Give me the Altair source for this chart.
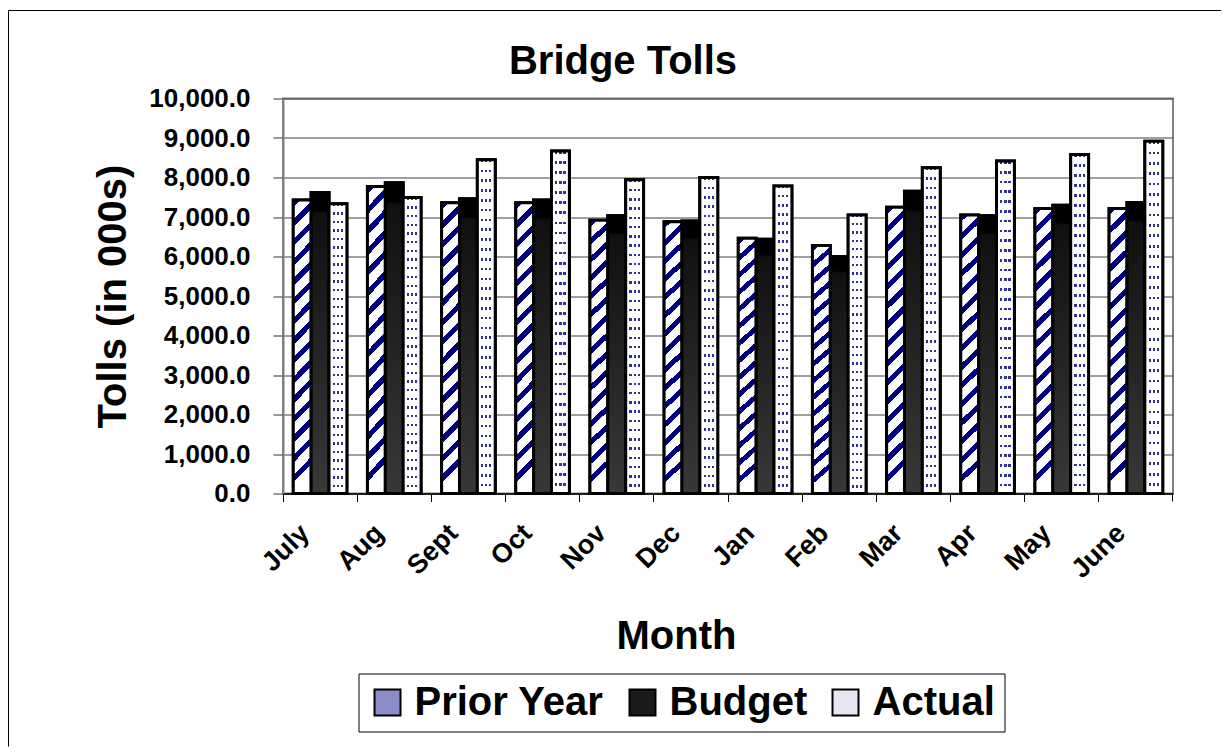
import altair as alt
import pandas as pd

months = ["July", "Aug", "Sept", "Oct", "Nov", "Dec", "Jan", "Feb", "Mar", "Apr", "May", "June"]
series = ["Prior Year", "Budget", "Actual"]
prior_year = [7430, 7775, 7360, 7360, 6915, 6880, 6460, 6280, 7245, 7050, 7215, 7215]
budget = [7620, 7870, 7460, 7430, 7030, 6900, 6435, 6000, 7655, 7030, 7300, 7370]
actual = [7335, 7495, 8450, 8670, 7945, 8000, 7785, 7050, 8250, 8415, 8585, 8920]
y_ticks = [0, 1000, 2000, 3000, 4000, 5000, 6000, 7000, 8000, 9000, 10000]
legend_colors = ["#8c8cc8", "#1a1a1a", "#e6e6f4"]
chart_title = "Bridge Tolls"

rows = []
for i, m in enumerate(months):
    for s, vals in zip(series, [prior_year, budget, actual]):
        rows.append({"Month": m, "Series": s, "Tolls": vals[i]})
df = pd.DataFrame(rows)

FONT = "Liberation Sans"
NAVY = "#000080"
W, H = 890, 395


def band_stops(c_on, c_off, n, frac):
    stops = []
    for i in range(n):
        a = i / n
        b = (i + frac) / n
        c = (i + 1) / n
        stops += [
            alt.GradientStop(offset=a, color=c_on),
            alt.GradientStop(offset=b, color=c_on),
            alt.GradientStop(offset=b, color=c_off),
            alt.GradientStop(offset=c, color=c_off),
        ]
    return stops


stripe_grad = alt.LinearGradient(
    gradient="linear", x1=0, y1=0, x2=0.062, y2=1,
    stops=band_stops(NAVY, "white", 15, 0.38),
)
budget_grad = alt.LinearGradient(
    gradient="linear", x1=0, y1=0, x2=0, y2=1,
    stops=[
        alt.GradientStop(offset=0, color="#000000"),
        alt.GradientStop(offset=0.06, color="#000000"),
        alt.GradientStop(offset=0.07, color="#101010"),
        alt.GradientStop(offset=1, color="#383838"),
    ],
)
col_stops = [alt.GradientStop(offset=0, color="white")]
for c in [0.27, 0.5, 0.73]:
    col_stops += [
        alt.GradientStop(offset=c - 0.06, color="white"),
        alt.GradientStop(offset=c - 0.06, color="#30309a"),
        alt.GradientStop(offset=c + 0.06, color="#30309a"),
        alt.GradientStop(offset=c + 0.06, color="white"),
    ]
col_stops.append(alt.GradientStop(offset=1, color="white"))
dot_cols = alt.LinearGradient(gradient="linear", x1=0, y1=0, x2=1, y2=0, stops=col_stops)
dot_rows = alt.LinearGradient(
    gradient="linear", x1=0, y1=0, x2=0, y2=1,
    stops=band_stops("rgba(255,255,255,0)", "white", 34, 0.27),
)

x_enc = alt.X(
    "Month:N", sort=months,
    scale=alt.Scale(paddingInner=0, paddingOuter=0),
    axis=alt.Axis(
        title="Month", titleFont=FONT, titleFontSize=40, titleFontWeight="bold", titleColor="black",
        titleX=393, titleY=155, titleAlign="center", titleBaseline="alphabetic",
        labelFont=FONT, labelFontSize=27, labelFontWeight="bold", labelColor="black",
        labelAngle=315, labelAlign="right", labelBaseline="top", labelPadding=18, labelOffset=-24,
        labelOverlap=False, labelLimit=300,
        tickSize=8, tickColor="black", tickWidth=1,
        domainColor="black", domainWidth=1.5, bandPosition=0, grid=False,
    ),
)
xo_enc = alt.XOffset(
    "Series:N", sort=series,
    scale=alt.Scale(domain=series, paddingInner=0, paddingOuter=0.575),
)
y_enc = alt.Y(
    "Tolls:Q",
    scale=alt.Scale(domain=[0, 10000], nice=False, zero=True),
    axis=alt.Axis(
        title="Tolls (in 000s)", titleFont=FONT, titleFontSize=40, titleFontWeight="bold",
        titleColor="black", titleX=-158, titleY=197.5, titleAngle=270, titleAlign="center",
        titleBaseline="alphabetic",
        values=y_ticks, format=",.1f",
        labelFont=FONT, labelFontSize=26, labelFontWeight="bold", labelColor="black",
        labelPadding=23, labelOverlap=False,
        tickSize=10, tickColor="#333333", tickWidth=1,
        grid=True, gridColor="#404040", gridWidth=1,
        domainColor="#808080", domainWidth=2,
    ),
)

base = alt.Chart(df).mark_bar(stroke="black", strokeWidth=3).encode(
    x=x_enc, xOffset=xo_enc, y=y_enc,
    fill=alt.Fill(
        "Series:N",
        scale=alt.Scale(domain=series, range=legend_colors),
        legend=alt.Legend(
            title=None, orient="none", legendX=75.5, legendY=575, direction="horizontal",
            symbolType="square", symbolSize=676, symbolStrokeColor="black", symbolStrokeWidth=2,
            symbolOpacity=1,
            labelFont=FONT, labelFontSize=40, labelFontWeight="bold", labelColor="black",
            labelLimit=400, labelOffset=7, columnPadding=18, padding=9,
            strokeColor="black", fillColor="white",
        ),
    ),
)


def overlay(name, fill, stroke=True):
    mk = dict(fill=fill)
    if stroke:
        mk.update(stroke="black", strokeWidth=3)
    else:
        mk.update(strokeWidth=0)
    return (
        alt.Chart(df)
        .transform_filter(alt.datum.Series == name)
        .mark_bar(**mk)
        .encode(x=x_enc, xOffset=xo_enc, y=y_enc)
    )


py_layer = overlay("Prior Year", stripe_grad)
b_layer = overlay("Budget", budget_grad)
a_layer1 = overlay("Actual", dot_cols, stroke=False)
a_layer2 = overlay("Actual", dot_rows)

one = pd.DataFrame({"t": [chart_title]})
frame_left = alt.Chart(one).mark_rule(color="black", strokeWidth=1).encode(
    x=alt.value(-274.5), y=alt.value(-88), y2=alt.value(648)
)
frame_top = alt.Chart(one).mark_rule(color="black", strokeWidth=1).encode(
    x=alt.value(-274.5), x2=alt.value(938), y=alt.value(-88)
)
end_tick = alt.Chart(one).mark_rule(color="black", strokeWidth=1).encode(
    x=alt.value(W - 0.5), y=alt.value(H), y2=alt.value(H + 8)
)
title_text = alt.Chart(one).mark_text(
    font=FONT, fontSize=40, fontWeight="bold", color="black",
    align="center", baseline="alphabetic",
).encode(text="t:N", x=alt.value(340), y=alt.value(-24.7))

chart = (
    alt.layer(base, py_layer, b_layer, a_layer1, a_layer2, frame_left, frame_top, end_tick, title_text)
    .properties(
        width=W, height=H,
        padding={"left": 0, "top": 1.5, "right": 0, "bottom": 0},
        background="white",
    )
    .configure_view(stroke="#808080", strokeWidth=2)
)

chart.save("out.html", embed_options={"renderer": "svg", "actions": False})
